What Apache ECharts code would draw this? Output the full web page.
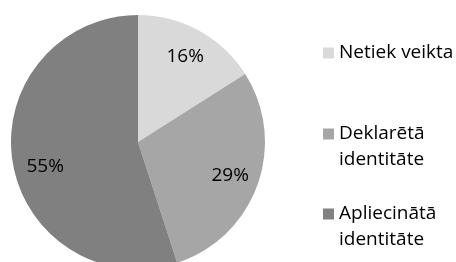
<!DOCTYPE html>
<html>
<head>
<meta charset="utf-8">
<script src="https://cdn.jsdelivr.net/npm/echarts@6/dist/echarts.min.js"></script>
<style>
  html, body { margin: 0; padding: 0; background: #fff; }
  #chart { width: 456px; height: 262px; }
</style>
</head>
<body>
<div id="chart"></div>
<script>
const categories = ['Netiek veikta', 'Deklarētā identitāte', 'Apliecinātā identitāte']
const values = [16, 29, 55]
const colors = ['#d9d9d9', '#a6a6a6', '#808080']

const font = "'Open Sans', sans-serif"
const pieData = categories.map((name, i) => ({
  name: name,
  value: values[i],
  itemStyle: { color: colors[i] }
}))

// one legend per entry so the uneven spacing of the original can be kept
const legendTops = [40, 95, 175]
const legends = categories.map((name, i) => {
  const twoLines = i > 0
  return {
    orient: 'vertical',
    left: 323,
    top: legendTops[i],
    padding: 0,
    itemWidth: 11,
    itemHeight: 11,
    icon: 'rect',
    selectedMode: false,
    data: [{ name: name, itemStyle: { color: colors[i] } }],
    // blank first line keeps the square level with the first text line
    formatter: n => twoLines ? '\n' + n.replace(' ', '\n') : n,
    textStyle: {
      fontFamily: font,
      fontSize: 19,
      lineHeight: 26,
      color: '#000'
    }
  }
})

const chart = echarts.init(document.getElementById('chart'))
chart.setOption({
  backgroundColor: '#fff',
  animation: false,
  legend: legends,
  series: [
    {
      type: 'pie',
      center: [138, 142],
      radius: [0, 127],
      startAngle: 90,
      clockwise: true,
      silent: true,
      label: { show: false },
      labelLine: { show: false },
      data: pieData
    },
    {
      // transparent ring only used to place the percentage labels
      type: 'pie',
      center: [138, 142],
      radius: [63, 127],
      startAngle: 90,
      clockwise: true,
      silent: true,
      legendHoverLink: false,
      itemStyle: { color: 'rgba(0,0,0,0)' },
      label: {
        show: true,
        position: 'inside',
        formatter: '{c}%',
        fontFamily: font,
        fontSize: 19,
        color: '#000'
      },
      labelLine: { show: false },
      data: categories.map((name, i) => ({
        name: name,
        value: values[i],
        label: i === 2 ? { offset: [4, 9] } : {}
      }))
    }
  ]
})
</script>
</body>
</html>
